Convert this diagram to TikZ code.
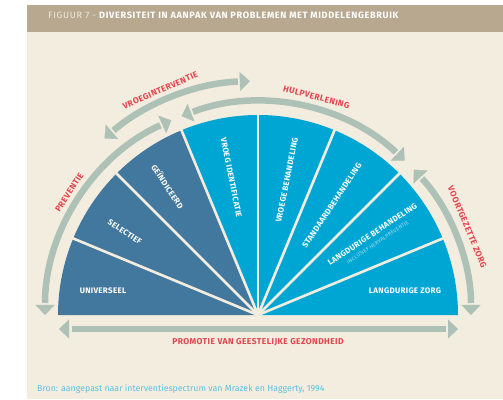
\documentclass[tikz,border=0pt]{standalone}
\usepackage{fontspec}
\setmainfont{Fira Sans}
\usetikzlibrary{arrows.meta}
\definecolor{beige}{HTML}{F3EDDF}
\definecolor{headbar}{HTML}{B8A88F}
\definecolor{headlight}{HTML}{EFE9DC}
\definecolor{darkblue}{HTML}{43789E}
\definecolor{lightblue}{HTML}{00A6D3}
\definecolor{arrowgrey}{HTML}{AEC1B6}
\definecolor{labelred}{HTML}{E3454E}
\definecolor{bronblue}{HTML}{5DC1E0}
\definecolor{subblue}{HTML}{A6DDF2}
\begin{document}
\begin{tikzpicture}[x=1pt,y=1pt,
  sectorlabel/.style={text=white,font=\fontsize{8}{9}\selectfont\bfseries\addfontfeature{LetterSpace=4},inner sep=0pt},
  redlabel/.style={text=labelred,font=\fontsize{8.5}{9}\selectfont\bfseries\addfontfeature{LetterSpace=5},inner sep=0pt},
  shaft/.style={draw=arrowgrey,line width=6.5pt},
  tipsonly/.style={tips,color=arrowgrey,{Triangle[width=19pt,length=10pt]}-{Triangle[width=19pt,length=10pt]}},
  divider/.style={draw=beige,line width=2.6pt}
]
\useasboundingbox (0,0) rectangle (503,399);
\fill[white] (0,0) rectangle (503,399);
\fill[beige] (27,0) rectangle (503,394);
\fill[headbar] (27,367) rectangle (503,394);
\node[anchor=base west,inner sep=0pt,text=white,font=\fontsize{9.2}{10}\selectfont\addfontfeature{LetterSpace=7}] (title) at (48,380)
  {\textcolor{headlight}{FIGUUR 7 -} \textbf{DIVERSITEIT IN AANPAK VAN PROBLEMEN MET MIDDELENGEBRUIK}};
\node[anchor=base west,inner sep=0pt,text=bronblue,font=\fontsize{8.8}{10}\selectfont] (bron) at (37,8)
  {Bron: aangepast naar interventiespectrum van Mrazek en Haggerty, 1994};
\begin{scope}[shift={(258,84)}]
  \foreach \a in {0,22.5,45,67.5,90}
    \fill[lightblue] (0,0) -- (\a:200) arc[start angle=\a,delta angle=22.5,radius=200] -- cycle;
  \foreach \a in {112.5,135,157.5}
    \fill[darkblue] (0,0) -- (\a:200) arc[start angle=\a,delta angle=22.5,radius=200] -- cycle;
  \foreach \a in {22.5,45,67.5,90,112.5,135,157.5}
    \draw[divider] (0,0) -- (\a:202);
  % arcs
  \draw[shaft,shorten <=12pt,shorten >=12pt] (180:213) arc[start angle=180,end angle=114,radius=213];
  \path[tipsonly] (180:213) arc[start angle=180,end angle=114,radius=213];
  \draw[shaft,shorten <=12pt,shorten >=12pt] (111:213) arc[start angle=111,end angle=46.5,radius=213];
  \path[tipsonly] (111:213) arc[start angle=111,end angle=46.5,radius=213];
  \draw[shaft,shorten <=12pt,shorten >=12pt] (43:213) arc[start angle=43,end angle=0,radius=213];
  \path[tipsonly] (43:213) arc[start angle=43,end angle=0,radius=213];
  \draw[shaft,shorten <=12pt,shorten >=12pt] (131:234) arc[start angle=131,end angle=92,radius=234];
  \path[tipsonly] (131:234) arc[start angle=131,end angle=92,radius=234];
  \coordinate (pl) at (-199,-14);
  \coordinate (pr) at (200,-14);
  \draw[shaft,shorten <=13pt,shorten >=12pt] (pl) -- (pr);
  \path[tipsonly] (pl) -- (pr);
  % sector labels
  \node[sectorlabel] (univ) at (-155,24) {UNIVERSEEL};
  \node[sectorlabel,rotate=-33.75] (sel) at (148:157) {SELECTIEF};
  \node[sectorlabel,rotate=-56.25] (gei) at (125:157) {GEÏNDICEERD};
  \node[sectorlabel,rotate=-78.75] (vid) at (101:140) {VROEG IDENTIFICATIE};
  \node[sectorlabel,rotate=78.75] (vbe) at (77.9:138) {VROEGE BEHANDELING};
  \node[sectorlabel,rotate=56.25] (std) at (56:132) {STANDAARDBEHANDELING};
  \node[sectorlabel,rotate=33.75] (lbe) at (35.2:140) {LANGDURIGE BEHANDELING};
  \node[rotate=33.75,anchor=north,inner sep=0pt,yshift=-4.5pt,text=subblue,font=\fontsize{5.3}{6}\selectfont\addfontfeature{LetterSpace=3}] (lbs) at (lbe.south) {INCLUSIEF HERVALPREVENTIE};
  \node[sectorlabel] (lzo) at (147,24) {LANGDURIGE ZORG};
  % arc labels
  \node[redlabel,rotate=57] (prev) at (147:225) {PREVENTIE};
  \node[redlabel,rotate=23.5] (vroeg) at (113.5:245) {VROEGINTERVENTIE};
  \node[redlabel,rotate=-15] (hulp) at (75:225.6) {HULPVERLENING};
  \node[redlabel,rotate=-67.2] (voort) at (22.8:227) {VOORTGEZETTE ZORG};
  \node[redlabel] (prom) at (0,-27) {PROMOTIE VAN GEESTELIJKE GEZONDHEID};
\end{scope}
\end{tikzpicture}
\end{document}
